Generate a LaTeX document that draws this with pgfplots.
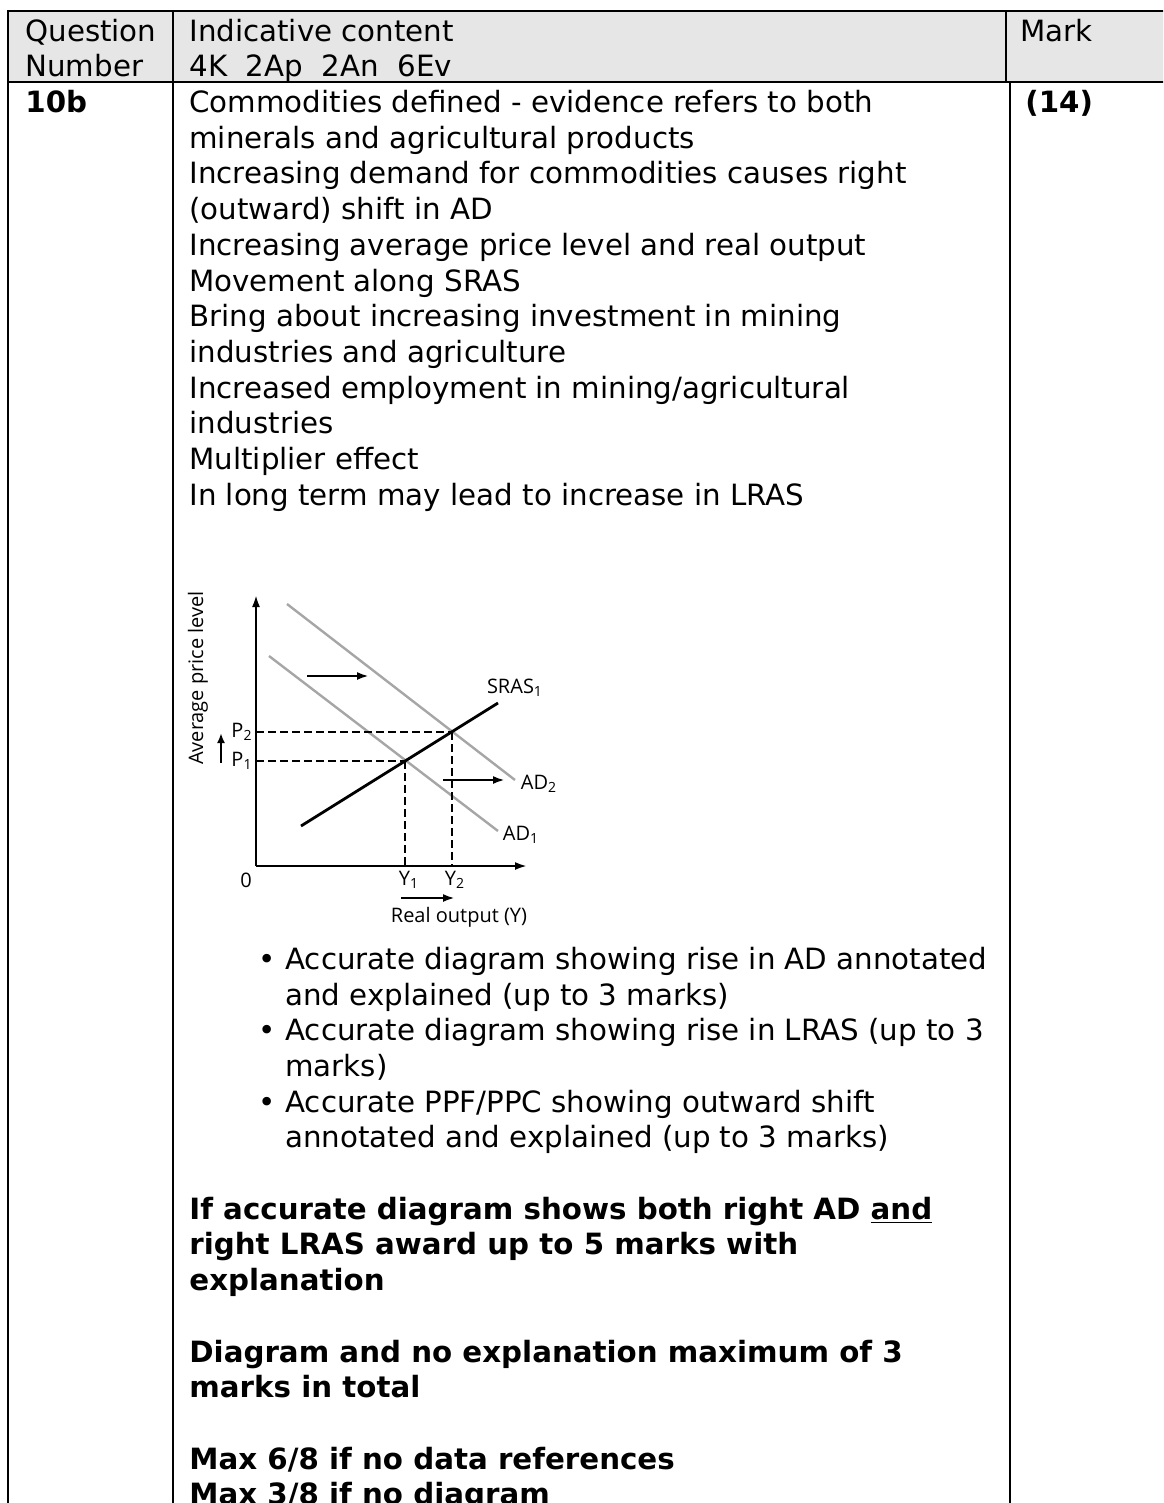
\documentclass[border=0pt]{standalone}
\usepackage{fontspec}
\setmainfont{DejaVu Sans}
\newfontfamily\diag{Open Sans}
\usepackage{pgfplots}
\pgfplotsset{compat=1.18}
\usetikzlibrary{arrows.meta}
\definecolor{hdr}{HTML}{E6E6E6}
\definecolor{adgray}{HTML}{A6A6A6}
% baseline of text line n, in pixels of the page (1px = 0.5pt)
\def\row#1{{-(112.5+35.7*#1)}}
\begin{document}
\begin{tikzpicture}
\path[use as bounding box] (0,0) rectangle (581.5pt,-751.5pt);
\clip (0,0) rectangle (581.5pt,-751.5pt);
\begin{scope}[x=0.5pt,y=0.5pt,
  t/.style={anchor=base west,inner sep=0pt,font=\fontsize{14.65}{18}\selectfont},
  b/.style={t,font=\fontsize{14.65}{18}\selectfont\bfseries}]
  % table frame
  \fill[hdr] (8,-11) rectangle (1170,-82);
  \draw[line width=1pt] (1170,-11) -- (8,-11) -- (8,-1510);
  \draw[line width=1pt] (8,-82) -- (1170,-82);
  \draw[line width=1pt] (173,-11) -- (173,-1510);
  \draw[line width=1pt] (1006,-11) -- (1006,-82);
  \draw[line width=1pt] (1010,-82) -- (1010,-1510);
  % header
  \node[t] at (25,-42) {Question};
  \node[t] at (25,-77) {Number};
  \node[t] at (189,-42) {Indicative content};
  \node[t] at (189,-77) {4K\ \ 2Ap\ \ 2An\ \ 6Ev};
  \node[t] at (1020,-42) {Mark};
  % body
  \node[b] at (25,\row{0}) {10b};
  \node[b] at (1025,\row{0}) {(14)};
  \node[t] at (189,\row{0}) {Commodities defined - evidence refers to both};
  \node[t] at (189,\row{1}) {minerals and agricultural products};
  \node[t] at (189,\row{2}) {Increasing demand for commodities causes right};
  \node[t] at (189,\row{3}) {(outward) shift in AD};
  \node[t] at (189,\row{4}) {Increasing average price level and real output};
  \node[t] at (189,\row{5}) {Movement along SRAS};
  \node[t] at (189,\row{6}) {Bring about increasing investment in mining};
  \node[t] at (189,\row{7}) {industries and agriculture};
  \node[t] at (189,\row{8}) {Increased employment in mining/agricultural};
  \node[t] at (189,\row{9}) {industries};
  \node[t] at (189,\row{10}) {Multiplier effect};
  \node[t] at (189,\row{11}) {In long term may lead to increase in LRAS};
  % bullets
  \node[t] at (258,\row{24}) {•};
  \node[t] at (258,\row{26}) {•};
  \node[t] at (258,\row{28}) {•};
  \node[t] at (285,\row{24}) {Accurate diagram showing rise in AD annotated};
  \node[t] at (285,\row{25}) {and explained (up to 3 marks)};
  \node[t] at (285,\row{26}) {Accurate diagram showing rise in LRAS (up to 3};
  \node[t] at (285,\row{27}) {marks)};
  \node[t] at (285,\row{28}) {Accurate PPF/PPC showing outward shift};
  \node[t] at (285,\row{29}) {annotated and explained (up to 3 marks)};
  % bold notes
  \node[b] at (189,\row{31}) {If accurate diagram shows both right AD \underline{and}};
  \node[b] at (189,\row{32}) {right LRAS award up to 5 marks with};
  \node[b] at (189,\row{33}) {explanation};
  \node[b] at (189,\row{35}) {Diagram and no explanation maximum of 3};
  \node[b] at (189,\row{36}) {marks in total};
  \node[b] at (189,\row{38}) {Max 6/8 if no data references};
  \node[b] at (189,\row{39}) {Max 3/8 if no diagram};
\end{scope}
% AD-AS diagram, one axis unit = one page pixel
\begin{axis}[at={(128pt,-433pt)}, anchor=south west,
  scale only axis, width=135.5pt, height=135.5pt,
  xmin=0, xmax=271, ymin=0, ymax=271,
  axis lines=left,
  axis line style={line width=1.1pt,-{Latex[length=6pt,width=4pt]}},
  xtick=\empty, ytick=\empty, clip=false,
  font=\diag\fontsize{10}{12}\selectfont]
  \addplot[adgray, line width=1.2pt] coordinates {(31,262) (259,86)};
  \addplot[adgray, line width=1.2pt] coordinates {(13,210) (242,35)};
  \addplot[black, line width=1.4pt] coordinates {(45,40) (242,163)};
  \addplot[black, line width=1.1pt, dash pattern=on 4pt off 2pt] coordinates {(0,134) (196,134)};
  \addplot[black, line width=1.1pt, dash pattern=on 4pt off 2pt] coordinates {(0,105) (149,105)};
  \addplot[black, line width=1.4pt, dash pattern=on 4pt off 2pt] coordinates {(196,134) (196,0)};
  \addplot[black, line width=1.4pt, dash pattern=on 4pt off 2pt] coordinates {(149,105) (149,0)};
  \addplot[black, line width=1.2pt, -{Latex[length=6pt,width=4pt]}] coordinates {(51,190) (113,190)};
  \addplot[black, line width=1.2pt, -{Latex[length=6pt,width=4pt]}] coordinates {(187,86) (249,86)};
  \addplot[black, line width=1.2pt, -{Latex[length=6pt,width=4pt]}] coordinates {(145,-32) (199,-32)};
  \addplot[black, line width=1.2pt, -{Latex[length=5pt,width=4pt]}] coordinates {(-35,103) (-35,133)};
  \node at (axis cs:-10,-14) {0};
  \node at (axis cs:153,-14) {Y\textsubscript{1}};
  \node at (axis cs:199,-14) {Y\textsubscript{2}};
  \node at (axis cs:-14,134) {P\textsubscript{2}};
  \node at (axis cs:-14,105) {P\textsubscript{1}};
  \node at (axis cs:259,178) {SRAS\textsubscript{1}};
  \node at (axis cs:283,82) {AD\textsubscript{2}};
  \node at (axis cs:265,31) {AD\textsubscript{1}};
  \node[rotate=90] at (axis cs:-58,188) {Average price level};
  \node at (axis cs:203,-51) {Real output (Y)};
\end{axis}
\end{tikzpicture}
\end{document}
